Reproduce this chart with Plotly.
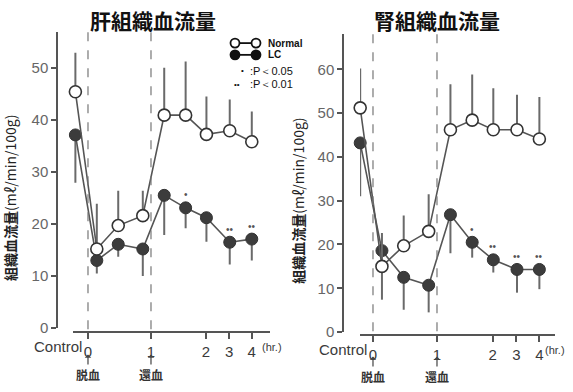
import plotly.graph_objects as go

W, H = 573, 392

# ---------------- data ----------------
# x positions on the (non-linear) time axis: Control, during bleeding, after return
x_pos = [-0.2, 0.14, 0.48, 0.87, 1.21, 1.55, 1.88, 2.25, 2.6]
tick_vals = [0, 1, 1.87, 2.24, 2.6]
tick_text = ["0", "1", "2", "3", "4"]

# Liver tissue blood flow
liver_normal = [45.4, 15.2, 19.7, 21.6, 40.9, 40.9, 37.2, 37.9, 35.8]
liver_normal_sd = [7.5, 8.7, 6.7, 4.8, 9.1, 10.3, 7.3, 6.0, 5.8]
liver_lc = [37.1, 13.0, 16.1, 15.2, 25.5, 23.1, 21.2, 16.5, 17.1]
liver_lc_sd = [9.2, 2.5, 2.4, 5.2, 7.6, 3.9, 4.6, 4.3, 4.1]
liver_sig = ["", "", "", "", "", "•", "", "••", "••"]

# Kidney tissue blood flow
kidney_normal = [51.2, 15.0, 19.7, 23.0, 46.2, 48.4, 46.2, 46.2, 44.1]
kidney_normal_sd = [9.0, 7.6, 6.9, 8.5, 10.4, 10.4, 9.5, 8.0, 9.6]
kidney_lc = [43.2, 18.6, 12.5, 10.7, 26.8, 20.5, 16.5, 14.3, 14.3]
kidney_lc_sd = [12.2, 11.2, 7.4, 6.2, 8.8, 3.5, 2.9, 5.3, 4.5]
kidney_sig = ["", "", "", "", "", "•", "••", "••", "••"]

titles = ["肝組織血流量", "腎組織血流量"]
y_title = "<b>組織血流量</b>(mℓ/min/100g)"

# ---------------- helpers ----------------
def px(x):
    return x / W


def py(y):
    return 1 - y / H


LINE = "#555555"
ERR = "#6a6a6a"
FILL = "#3c3c3c"
TXT = "#3a3a3a"
JP = "Noto Sans CJK JP"
LAT = "Liberation Sans, Arial, sans-serif"

fig = go.Figure()

panels = [
    dict(normal=liver_normal, nsd=liver_normal_sd, lc=liver_lc, lsd=liver_lc_sd,
         sig=liver_sig, xa="x", ya="y"),
    dict(normal=kidney_normal, nsd=kidney_normal_sd, lc=kidney_lc, lsd=kidney_lc_sd,
         sig=kidney_sig, xa="x2", ya="y2"),
]

for p in panels:
    fig.add_trace(go.Scatter(
        x=x_pos, y=p["lc"], xaxis=p["xa"], yaxis=p["ya"], mode="lines+markers",
        line=dict(color=LINE, width=1.6),
        marker=dict(size=12, color=FILL, line=dict(color="#333333", width=1)),
        error_y=dict(type="data", symmetric=False, array=[0] * len(x_pos),
                     arrayminus=p["lsd"], color=ERR, thickness=2, width=0),
        showlegend=False, cliponaxis=False))
    fig.add_trace(go.Scatter(
        x=x_pos, y=p["normal"], xaxis=p["xa"], yaxis=p["ya"], mode="lines+markers",
        line=dict(color=LINE, width=1.6),
        marker=dict(size=12, color="white", line=dict(color="#333333", width=1.6)),
        error_y=dict(type="data", symmetric=False, array=p["nsd"],
                     arrayminus=[0] * len(x_pos), color=ERR, thickness=2, width=0),
        showlegend=False, cliponaxis=False))

# ---------------- axes ----------------
xcommon = dict(showline=True, linecolor=LINE, linewidth=1.5, ticks="outside",
               ticklen=6, tickcolor=LINE, tickwidth=1.5, showgrid=False,
               zeroline=False, tickvals=tick_vals, ticktext=tick_text,
               tickfont=dict(family=LAT, size=15, color=TXT), anchor="free")
ycommon = dict(showline=True, linecolor=LINE, linewidth=1.5, ticks="outside",
               ticklen=5, tickcolor=LINE, tickwidth=1.5, showgrid=False,
               zeroline=False, tickfont=dict(family=LAT, size=15, color="#666666"),
               anchor="free")

fig.update_layout(
    width=W, height=H, margin=dict(l=0, r=0, t=0, b=0),
    paper_bgcolor="white", plot_bgcolor="rgba(0,0,0,0)",
    xaxis=dict(xcommon, domain=[px(73), px(270)], range=[-0.238, 2.889],
               position=py(339)),
    yaxis=dict(ycommon, domain=[py(335), py(33)], range=[0, 56.8],
               tickvals=[0, 10, 20, 30, 40, 50], position=px(57)),
    xaxis2=dict(xcommon, domain=[px(360), px(555)], range=[-0.203, 2.844],
                position=py(342)),
    yaxis2=dict(ycommon, domain=[py(339), py(35)], range=[0, 68],
                tickvals=[0, 10, 20, 30, 40, 50, 60], position=px(343)),
)

shapes = []
ann = []


def text(t, x, y, size, family=LAT, color="#111111", xanchor="center", angle=0,
         xref="paper", yref="paper", **kw):
    d = dict(text=t, x=x, y=y, xref=xref, yref=yref, xanchor=xanchor,
             yanchor="middle", showarrow=False, textangle=angle,
             font=dict(family=family, size=size, color=color))
    d.update(kw)
    ann.append(d)


# dashed lines for bleeding start (0) and return (1)
for xa, top, bot in [("x", 33, 344), ("x2", 35, 347)]:
    for xv in [0, 1]:
        shapes.append(dict(type="line", xref=xa, yref="paper", x0=xv, x1=xv,
                           y0=py(top), y1=py(bot),
                           line=dict(color="#777777", width=1.2, dash="dash")))

# titles
for cx, t in [(153, titles[0]), (437, titles[1])]:
    text(f"<b>{t}</b>", px(cx), py(20), 21, family=JP)

# y titles
for cx, cy in [(10, 202), (298, 205)]:
    text(y_title, px(cx), py(cy), 14, family=JP, color="#222222", angle=-90)

# Control and (hr.) labels
for xr, yv, hx in [(84, 354, 260), (369, 357, 543)]:
    text("Control", px(xr), py(yv), 15, color=TXT, xanchor="right")
    text("(hr.)", px(hx), py(yv), 11, color=TXT, xanchor="left")

# arrows with 脱血 / 還血
for xa, ylab in [("x", 362), ("x2", 364)]:
    for xv, lab in [(0, "脱血"), (1, "還血")]:
        ann.append(dict(text=f"<b>{lab}</b>", x=xv, y=py(ylab), xref=xa, yref="paper",
                        showarrow=True, arrowhead=1, arrowsize=0.9, arrowwidth=1.2,
                        arrowcolor="#444444", ax=0, ay=20,
                        font=dict(family=JP, size=12, color="#333333")))

# significance marks
for p in panels:
    for xv, yv, s in zip(x_pos, p["lc"], p["sig"]):
        if s:
            ann.append(dict(text=s, x=xv, y=yv, xref=p["xa"], yref=p["ya"],
                            showarrow=False, yshift=13, xanchor="center",
                            yanchor="middle",
                            font=dict(family=LAT, size=10, color="#555555")))

# legend (drawn manually)
for yy, filled, label in [(44, False, "Normal"), (56, True, "LC")]:
    shapes.append(dict(type="line", xref="paper", yref="paper", x0=px(235), x1=px(256),
                       y0=py(yy), y1=py(yy), line=dict(color="#111111", width=1.8)))
    for cxx in [235, 256]:
        shapes.append(dict(type="circle", xref="paper", yref="paper",
                           xsizemode="pixel", ysizemode="pixel",
                           xanchor=px(cxx), yanchor=py(yy), x0=-4.5, x1=4.5, y0=-4.5, y1=4.5,
                           fillcolor="#111111" if filled else "white",
                           line=dict(color="#111111", width=1.8)))
    text(f"<b>{label}</b>", px(266), py(yy), 10, xanchor="left")
for yy, dots, dx, label in [(72, "•", 242, ":P＜0.05"), (86, "••", 237, ":P＜0.01")]:
    text(dots, px(dx), py(yy), 8)
    text(label, px(248), py(yy), 11, xanchor="left")

fig.update_layout(shapes=shapes, annotations=ann)
fig.write_html("out.html", config={"displayModeBar": False},
               post_script="document.body.style.margin='0';document.body.style.padding='0';")
